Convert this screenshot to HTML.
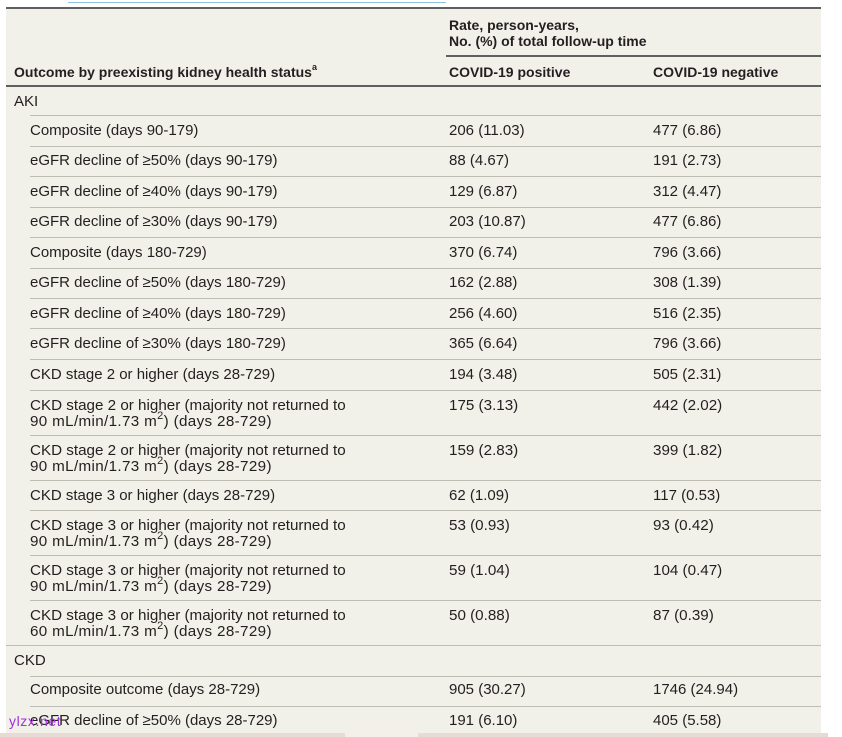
<!DOCTYPE html>
<html>
<head>
<meta charset="utf-8">
<style>
  html,body{margin:0;padding:0;background:#fff;}
  body{width:842px;height:737px;position:relative;overflow:hidden;font-family:"Liberation Sans","DejaVu Sans",sans-serif;color:#231f20;}
  .bg{position:absolute;left:6px;top:7px;width:815px;height:726px;background:#f1f0e9;}
  .thick{position:absolute;height:2px;background:#5f5f5f;}
  .thin{position:absolute;height:1px;background:#bdbcb5;left:30px;width:791px;}
  .t{position:absolute;font-size:15px;line-height:18px;white-space:nowrap;}
  .t2{position:absolute;font-size:15.2px;line-height:16px;white-space:nowrap;}
  .h{position:absolute;font-size:14px;line-height:16px;font-weight:bold;white-space:nowrap;color:#231f20;}
  .c1{left:30px;}
  .c0{left:14px;}
  .c2{left:449px;}
  .c3{left:653px;}
  sup{font-size:11px;line-height:0;position:relative;top:-1px;vertical-align:super;}
  .w2{letter-spacing:0.35px;}
</style>
</head>
<body>
<div style="position:absolute;left:68px;top:2px;width:378px;height:1px;background:#8fc2e3;"></div>
<div class="bg"></div>
<div class="thick" style="left:6px;top:7px;width:815px;"></div>
<div class="thick" style="left:446px;top:55px;width:375px;"></div>
<div class="thick" style="left:6px;top:85px;width:815px;"></div>

<div class="h c2" style="top:17px;">Rate, person-years,</div>
<div class="h c2" style="top:33px;">No. (%) of total follow-up time</div>
<div class="h c0" style="top:64px;">Outcome by preexisting kidney health status<sup style="font-size:9px;">a</sup></div>
<div class="h c2" style="top:64px;">COVID-19 positive</div>
<div class="h c3" style="top:64px;">COVID-19 negative</div>

<!-- separators -->
<div class="thin" style="top:115px;"></div>
<div class="thin" style="top:146px;"></div>
<div class="thin" style="top:176px;"></div>
<div class="thin" style="top:207px;"></div>
<div class="thin" style="top:237px;"></div>
<div class="thin" style="top:268px;"></div>
<div class="thin" style="top:298px;"></div>
<div class="thin" style="top:328px;"></div>
<div class="thin" style="top:359px;"></div>
<div class="thin" style="top:390px;"></div>
<div class="thin" style="top:435px;"></div>
<div class="thin" style="top:480px;"></div>
<div class="thin" style="top:510px;"></div>
<div class="thin" style="top:555px;"></div>
<div class="thin" style="top:600px;"></div>
<div class="thin" style="top:645px;left:6px;width:815px;"></div>
<div class="thin" style="top:676px;"></div>
<div class="thin" style="top:706px;"></div>

<div class="t c0" style="top:93px;">AKI</div>

<div class="t c1" style="top:122px;">Composite (days 90-179)</div>
<div class="t c2" style="top:122px;">206 (11.03)</div>
<div class="t c3" style="top:122px;">477 (6.86)</div>

<div class="t c1" style="top:152px;">eGFR decline of ≥50% (days 90-179)</div>
<div class="t c2" style="top:152px;">88 (4.67)</div>
<div class="t c3" style="top:152px;">191 (2.73)</div>

<div class="t c1" style="top:183px;">eGFR decline of ≥40% (days 90-179)</div>
<div class="t c2" style="top:183px;">129 (6.87)</div>
<div class="t c3" style="top:183px;">312 (4.47)</div>

<div class="t c1" style="top:213px;">eGFR decline of ≥30% (days 90-179)</div>
<div class="t c2" style="top:213px;">203 (10.87)</div>
<div class="t c3" style="top:213px;">477 (6.86)</div>

<div class="t c1" style="top:244px;">Composite (days 180-729)</div>
<div class="t c2" style="top:244px;">370 (6.74)</div>
<div class="t c3" style="top:244px;">796 (3.66)</div>

<div class="t c1" style="top:274px;">eGFR decline of ≥50% (days 180-729)</div>
<div class="t c2" style="top:274px;">162 (2.88)</div>
<div class="t c3" style="top:274px;">308 (1.39)</div>

<div class="t c1" style="top:305px;">eGFR decline of ≥40% (days 180-729)</div>
<div class="t c2" style="top:305px;">256 (4.60)</div>
<div class="t c3" style="top:305px;">516 (2.35)</div>

<div class="t c1" style="top:335px;">eGFR decline of ≥30% (days 180-729)</div>
<div class="t c2" style="top:335px;">365 (6.64)</div>
<div class="t c3" style="top:335px;">796 (3.66)</div>

<div class="t c1" style="top:366px;">CKD stage 2 or higher (days 28-729)</div>
<div class="t c2" style="top:366px;">194 (3.48)</div>
<div class="t c3" style="top:366px;">505 (2.31)</div>

<div class="t2 c1" style="top:398px;">CKD stage 2 or higher (majority not returned to<br><span class="w2">90 mL/min/1.73 m<sup>2</sup>) (days 28-729)</span></div>
<div class="t2 c2" style="top:398px;">175 (3.13)</div>
<div class="t2 c3" style="top:398px;">442 (2.02)</div>

<div class="t2 c1" style="top:443px;">CKD stage 2 or higher (majority not returned to<br><span class="w2">90 mL/min/1.73 m<sup>2</sup>) (days 28-729)</span></div>
<div class="t2 c2" style="top:443px;">159 (2.83)</div>
<div class="t2 c3" style="top:443px;">399 (1.82)</div>

<div class="t c1" style="top:487px;">CKD stage 3 or higher (days 28-729)</div>
<div class="t c2" style="top:487px;">62 (1.09)</div>
<div class="t c3" style="top:487px;">117 (0.53)</div>

<div class="t2 c1" style="top:518px;">CKD stage 3 or higher (majority not returned to<br><span class="w2">90 mL/min/1.73 m<sup>2</sup>) (days 28-729)</span></div>
<div class="t2 c2" style="top:518px;">53 (0.93)</div>
<div class="t2 c3" style="top:518px;">93 (0.42)</div>

<div class="t2 c1" style="top:563px;">CKD stage 3 or higher (majority not returned to<br><span class="w2">90 mL/min/1.73 m<sup>2</sup>) (days 28-729)</span></div>
<div class="t2 c2" style="top:563px;">59 (1.04)</div>
<div class="t2 c3" style="top:563px;">104 (0.47)</div>

<div class="t2 c1" style="top:608px;">CKD stage 3 or higher (majority not returned to<br><span class="w2">60 mL/min/1.73 m<sup>2</sup>) (days 28-729)</span></div>
<div class="t2 c2" style="top:608px;">50 (0.88)</div>
<div class="t2 c3" style="top:608px;">87 (0.39)</div>

<div class="t c0" style="top:652px;">CKD</div>

<div class="t c1" style="top:681px;">Composite outcome (days 28-729)</div>
<div class="t c2" style="top:681px;">905 (30.27)</div>
<div class="t c3" style="top:681px;">1746 (24.94)</div>

<div class="t c1" style="top:712px;">eGFR decline of ≥50% (days 28-729)</div>
<div class="t c2" style="top:712px;">191 (6.10)</div>
<div class="t c3" style="top:712px;">405 (5.58)</div>

<div style="position:absolute;left:9px;top:712px;font-size:14px;line-height:18px;letter-spacing:0.6px;color:#a22ee0;white-space:nowrap;">ylzx.net</div>

<div style="position:absolute;left:0;top:733px;width:828px;height:4px;background:#e8dad5;"></div>
<div style="position:absolute;left:345px;top:733px;width:73px;height:4px;background:#f5efec;"></div>
</body>
</html>
